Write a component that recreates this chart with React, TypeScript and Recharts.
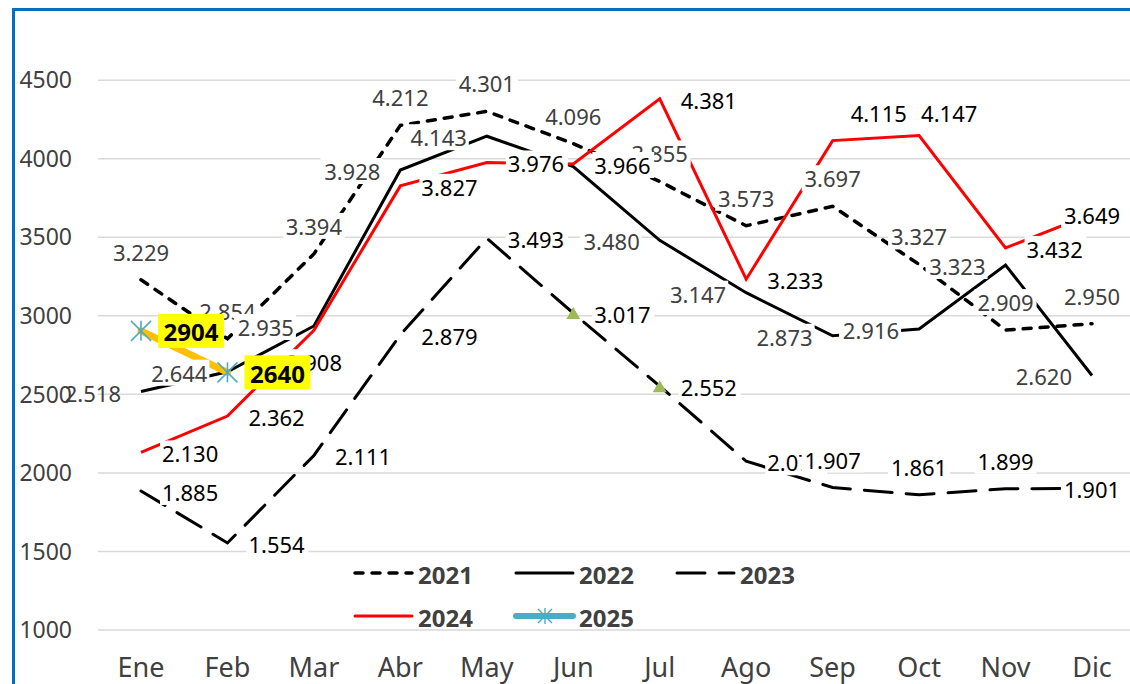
import React from "react"
import { CartesianGrid, LabelList, Legend, Line, LineChart, XAxis, YAxis } from "recharts"

const months = ["Ene", "Feb", "Mar", "Abr", "May", "Jun", "Jul", "Ago", "Sep", "Oct", "Nov", "Dic"]
const sales2021 = [3229, 2854, 3394, 4212, 4301, 4096, 3855, 3573, 3697, 3327, 2909, 2950]
const sales2022 = [2518, 2644, 2935, 3928, 4143, 3950, 3480, 3147, 2873, 2916, 3323, 2620]
const sales2023 = [1885, 1554, 2111, 2879, 3493, 3017, 2552, 2074, 1907, 1861, 1899, 1901]
const sales2024 = [2130, 2362, 2908, 3827, 3976, 3966, 4381, 3233, 4115, 4147, 3432, 3649]
const sales2025 = [2904, 2640]
const yTicks = [1000, 1500, 2000, 2500, 3000, 3500, 4000, 4500]

const data = months.map((month, i) => ({
  month,
  y2021: sales2021[i],
  y2022: sales2022[i],
  y2023: sales2023[i],
  y2024: sales2024[i],
  y2025: sales2025[i] ?? null,
}))

const FONT = "'Noto Sans', 'Open Sans', sans-serif"
const GREY = "#404040"

type Place = { anchor: "start" | "middle" | "end"; dx: number; dy: number; bg?: boolean; hidden?: boolean }
const ABOVE: Place = { anchor: "middle", dx: 0, dy: -28 }
const BELOW: Place = { anchor: "middle", dx: 0, dy: 32 }
const LEFT: Place = { anchor: "end", dx: -20, dy: 1 }
const RIGHT: Place = { anchor: "start", dx: 21, dy: 1 }
const CENTER: Place = { anchor: "middle", dx: 0, dy: 1 }

// spanish thousands separator: 3229 -> 3.229
const fmt = (v: number) => `${Math.floor(v / 1000)}.${String(v % 1000).padStart(3, "0")}`

function makeLabel(color: string, base: Place, overrides: Record<number, Place> = {}) {
  return (props: any) => {
    const { value, index } = props
    if (value == null) return null
    const px = props.x ?? props.viewBox?.x
    const py = props.y ?? props.viewBox?.y
    if (px == null || py == null) return null
    const p = overrides[index] ?? base
    if (p.hidden) return null
    const w = 58
    const h = 26
    const tx = px + p.dx
    const ty = py + p.dy
    const left = p.anchor === "start" ? tx : p.anchor === "end" ? tx - w : tx - w / 2
    return (
      <g>
        {p.bg !== false && <rect x={left - 2} y={ty - h / 2} width={w + 4} height={h} fill="#fff" />}
        <text x={tx} y={ty} textAnchor={p.anchor} dominantBaseline="central" fontSize={22} fontFamily={FONT} fill={color}>
          {fmt(value)}
        </text>
      </g>
    )
  }
}

const label2025 = (props: any) => {
  const { value } = props
  if (value == null) return null
  const px = props.x ?? props.viewBox?.x
  const py = props.y ?? props.viewBox?.y
  if (px == null || py == null) return null
  return (
    <g>
      <rect x={px + 17} y={py - 17} width={66} height={34} fill="#FFFF00" />
      <text x={px + 50} y={py + 1} textAnchor="middle" dominantBaseline="central" fontSize={24} fontWeight="bold" fontFamily={FONT} fill="#000">
        {value}
      </text>
    </g>
  )
}

const StarDot = (props: any) => {
  const { cx, cy, index } = props
  if (cx == null || cy == null || props.value == null) return <g key={`s${index}`} />
  const r = 10
  return (
    <g key={`s${index}`} stroke="#4BACC6" strokeWidth={1.6}>
      <line x1={cx - r} y1={cy - r} x2={cx + r} y2={cy + r} />
      <line x1={cx - r} y1={cy + r} x2={cx + r} y2={cy - r} />
      <line x1={cx} y1={cy - r} x2={cx} y2={cy + r} />
    </g>
  )
}

const markedMonths2023 = [5, 6]
const TriangleDot = (props: any) => {
  const { cx, cy, index } = props
  if (!markedMonths2023.includes(index) || cx == null) return <g key={`t${index}`} />
  return <path key={`t${index}`} d={`M${cx},${cy - 6} L${cx + 7},${cy + 6} L${cx - 7},${cy + 6} Z`} fill="#9BBB59" />
}

const legendItems = [
  { name: "2021", stroke: "#000", width: 3.5, dash: "8 9", col: 0, row: 0 },
  { name: "2022", stroke: "#000", width: 3, dash: undefined, col: 1, row: 0 },
  { name: "2023", stroke: "#000", width: 3, dash: "28 14", col: 2, row: 0 },
  { name: "2024", stroke: "#FF0000", width: 3, dash: undefined, col: 0, row: 1 },
  { name: "2025", stroke: "#4BACC6", width: 6, dash: undefined, col: 1, row: 1 },
]

function LegendBox() {
  return (
    <svg width={480} height={86}>
      {legendItems.map((it) => {
        const x0 = 5 + it.col * 161
        const cy = 20 + it.row * 43
        return (
          <g key={it.name}>
            <line x1={x0} y1={cy} x2={x0 + 57} y2={cy} stroke={it.stroke} strokeWidth={it.width} strokeDasharray={it.dash} strokeLinecap="round" />
            {it.name === "2025" && (
              <g stroke="#4BACC6" strokeWidth={1.4}>
                <line x1={x0 + 22} y1={cy - 7} x2={x0 + 36} y2={cy + 7} />
                <line x1={x0 + 22} y1={cy + 7} x2={x0 + 36} y2={cy - 7} />
                <line x1={x0 + 29} y1={cy - 8} x2={x0 + 29} y2={cy + 8} />
              </g>
            )}
            <text x={x0 + 63} y={cy + 1} dominantBaseline="central" fontSize={24} fontWeight="bold" fontFamily={FONT} fill={GREY}>
              {it.name}
            </text>
          </g>
        )
      })}
    </svg>
  )
}

export default function App() {
  return (
    <div style={{ position: "absolute", left: 0, top: 0, width: 1130, height: 684, overflow: "hidden", background: "#fff" }}>
      <div
        style={{
          position: "absolute",
          left: 12,
          top: 8,
          width: 1200,
          height: 700,
          borderLeft: "3px solid #0070C0",
          borderTop: "3px solid #0070C0",
          pointerEvents: "none",
        }}
      />
      <LineChart width={1140} height={684} data={data} margin={{ top: 33, right: 5, bottom: 0, left: 14 }}>
        <CartesianGrid vertical={false} horizontalValues={yTicks} stroke="#D9D9D9" strokeWidth={1.5} />
        <XAxis
          dataKey="month"
          axisLine={false}
          tickLine={false}
          tickSize={0}
          tickMargin={28}
          height={54}
          interval={0}
          padding={{ left: 43, right: 43 }}
          tick={{ fontSize: 27, fill: GREY, fontFamily: FONT }}
        />
        <YAxis
          domain={[1000, 4800]}
          ticks={yTicks}
          axisLine={false}
          tickLine={false}
          tickSize={0}
          tickMargin={26}
          width={84}
          tick={{ fontSize: 23, fill: GREY, fontFamily: FONT }}
        />
        <Legend
          layout="horizontal"
          verticalAlign="middle"
          align="center"
          content={() => <LegendBox />}
          wrapperStyle={{ position: "absolute", left: 350, top: 553, width: 480, height: 86 }}
        />
        <Line dataKey="y2021" stroke="#000" strokeWidth={3.5} strokeDasharray="8 9" strokeLinecap="round" dot={false} activeDot={false} isAnimationActive={false}>
          <LabelList dataKey="y2021" content={makeLabel(GREY, ABOVE)} />
        </Line>
        <Line dataKey="y2022" stroke="#000" strokeWidth={3} dot={false} activeDot={false} isAnimationActive={false}>
          <LabelList
            dataKey="y2022"
            content={makeLabel(GREY, LEFT, { 0: { ...LEFT, bg: false }, 5: { ...LEFT, hidden: true } })}
          />
        </Line>
        <Line dataKey="y2023" stroke="#000" strokeWidth={3} strokeDasharray="28 14" strokeLinecap="round" dot={TriangleDot} activeDot={false} isAnimationActive={false}>
          <LabelList dataKey="y2023" content={makeLabel("#000", RIGHT, { 8: ABOVE, 9: ABOVE, 10: ABOVE, 11: CENTER })} />
        </Line>
        <Line dataKey="y2024" stroke="#FF0000" strokeWidth={3} dot={false} activeDot={false} isAnimationActive={false}>
          <LabelList
            dataKey="y2024"
            content={makeLabel("#000", RIGHT, {
              2: BELOW,
              8: { anchor: "start", dx: 18, dy: -28 },
              9: { anchor: "start", dx: 2, dy: -23 },
              11: CENTER,
            })}
          />
        </Line>
        <Line dataKey="y2025" stroke="#FFC000" strokeWidth={7} strokeLinecap="round" dot={StarDot} activeDot={false} isAnimationActive={false}>
          <LabelList dataKey="y2025" content={label2025} />
        </Line>
      </LineChart>
    </div>
  )
}
